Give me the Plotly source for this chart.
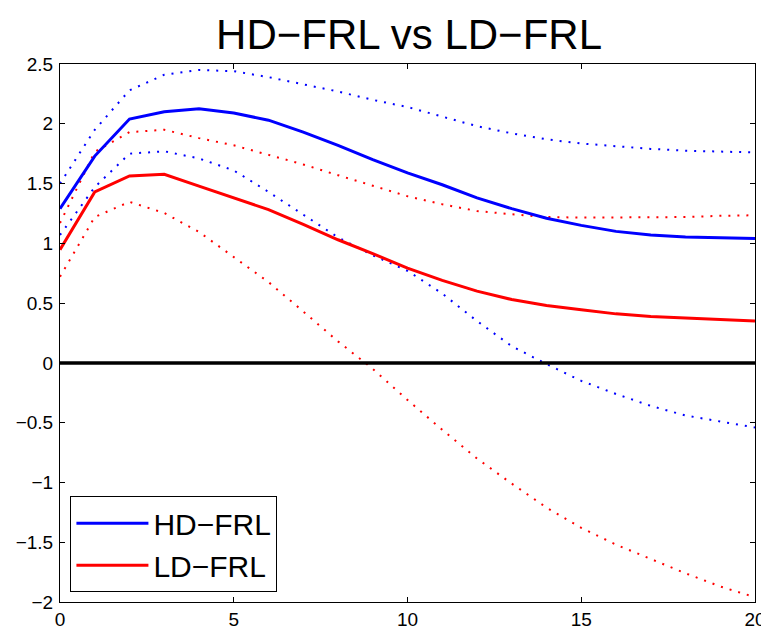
import plotly.graph_objects as go

# horizon
t = list(range(21))

# HD-FRL: point estimate and bands
hd_mid = [1.29, 1.73, 2.04, 2.10, 2.125, 2.09, 2.03, 1.93, 1.82, 1.70, 1.59,
          1.49, 1.38, 1.29, 1.21, 1.15, 1.10, 1.07, 1.053, 1.045, 1.04]
hd_hi = [1.50, 1.95, 2.28, 2.41, 2.45, 2.44, 2.39, 2.33, 2.27, 2.20, 2.14,
         2.06, 1.98, 1.92, 1.87, 1.835, 1.81, 1.79, 1.775, 1.765, 1.76]
hd_lo = [1.07, 1.47, 1.75, 1.77, 1.71, 1.61, 1.43, 1.24, 1.05, 0.90, 0.77,
         0.58, 0.35, 0.14, -0.01, -0.15, -0.26, -0.36, -0.44, -0.49, -0.54]

# LD-FRL: point estimate and bands
ld_mid = [0.947, 1.43, 1.564, 1.578, 1.478, 1.383, 1.282, 1.159, 1.03, 0.914, 0.793,
          0.69, 0.60, 0.53, 0.48, 0.444, 0.41, 0.388, 0.374, 0.36, 0.35]
ld_hi = [1.17, 1.765, 1.93, 1.95, 1.88, 1.82, 1.74, 1.66, 1.57, 1.48, 1.394,
         1.327, 1.27, 1.243, 1.22, 1.215, 1.215, 1.215, 1.22, 1.23, 1.235]
ld_lo = [0.72, 1.22, 1.347, 1.254, 1.095, 0.885, 0.676, 0.43, 0.18, -0.05, -0.31,
         -0.56, -0.80, -1.01, -1.21, -1.38, -1.52, -1.64, -1.76, -1.87, -1.96]

x_ticks = [0, 5, 10, 15, 20]
y_ticks = [-2, -1.5, -1, -0.5, 0, 0.5, 1, 1.5, 2, 2.5]

BLUE = "#0000ff"
RED = "#ff0000"
DOT = "2px,7px"

fig = go.Figure()

# dotted bands first
for ys, c in [(hd_hi, BLUE), (hd_lo, BLUE), (ld_hi, RED), (ld_lo, RED)]:
    fig.add_trace(go.Scatter(x=t, y=ys, mode="lines", showlegend=False,
                             line=dict(color=c, width=2, dash=DOT)))

fig.add_trace(go.Scatter(x=t, y=hd_mid, mode="lines", name="HD\u2212FRL",
                         line=dict(color=BLUE, width=3)))
fig.add_trace(go.Scatter(x=t, y=ld_mid, mode="lines", name="LD\u2212FRL",
                         line=dict(color=RED, width=3)))

# zero line
fig.add_hline(y=0, line=dict(color="black", width=3.5))

axis_style = dict(showline=True, linecolor="black", linewidth=1, mirror="ticks",
                  ticks="inside", ticklen=5, tickcolor="black", showgrid=False,
                  zeroline=False, automargin=False,
                  tickfont=dict(size=19, color="black"))

# page body has an 8px margin, so the figure is a bit smaller than the window
fig.update_layout(
    width=761, height=622,
    margin=dict(l=52, r=14, t=56, b=28),
    paper_bgcolor="white", plot_bgcolor="white",
    font=dict(family="Liberation Sans, Arial, sans-serif", color="black"),
    title=dict(text="HD\u2212FRL vs LD\u2212FRL", x=0.527, xanchor="center",
               y=0.958, yanchor="middle", font=dict(size=42, color="black")),
    xaxis=dict(range=[0, 20], tickvals=x_ticks, **axis_style),
    yaxis=dict(range=[-2, 2.5], tickvals=y_ticks, ticklabelstandoff=2, **axis_style),
    legend=dict(x=0.015, y=0.018, xanchor="left", yanchor="bottom",
                bordercolor="black", borderwidth=1, bgcolor="white",
                font=dict(size=30, color="black"), itemwidth=72,
                tracegroupgap=0),
)

fig.write_html("out.html")
